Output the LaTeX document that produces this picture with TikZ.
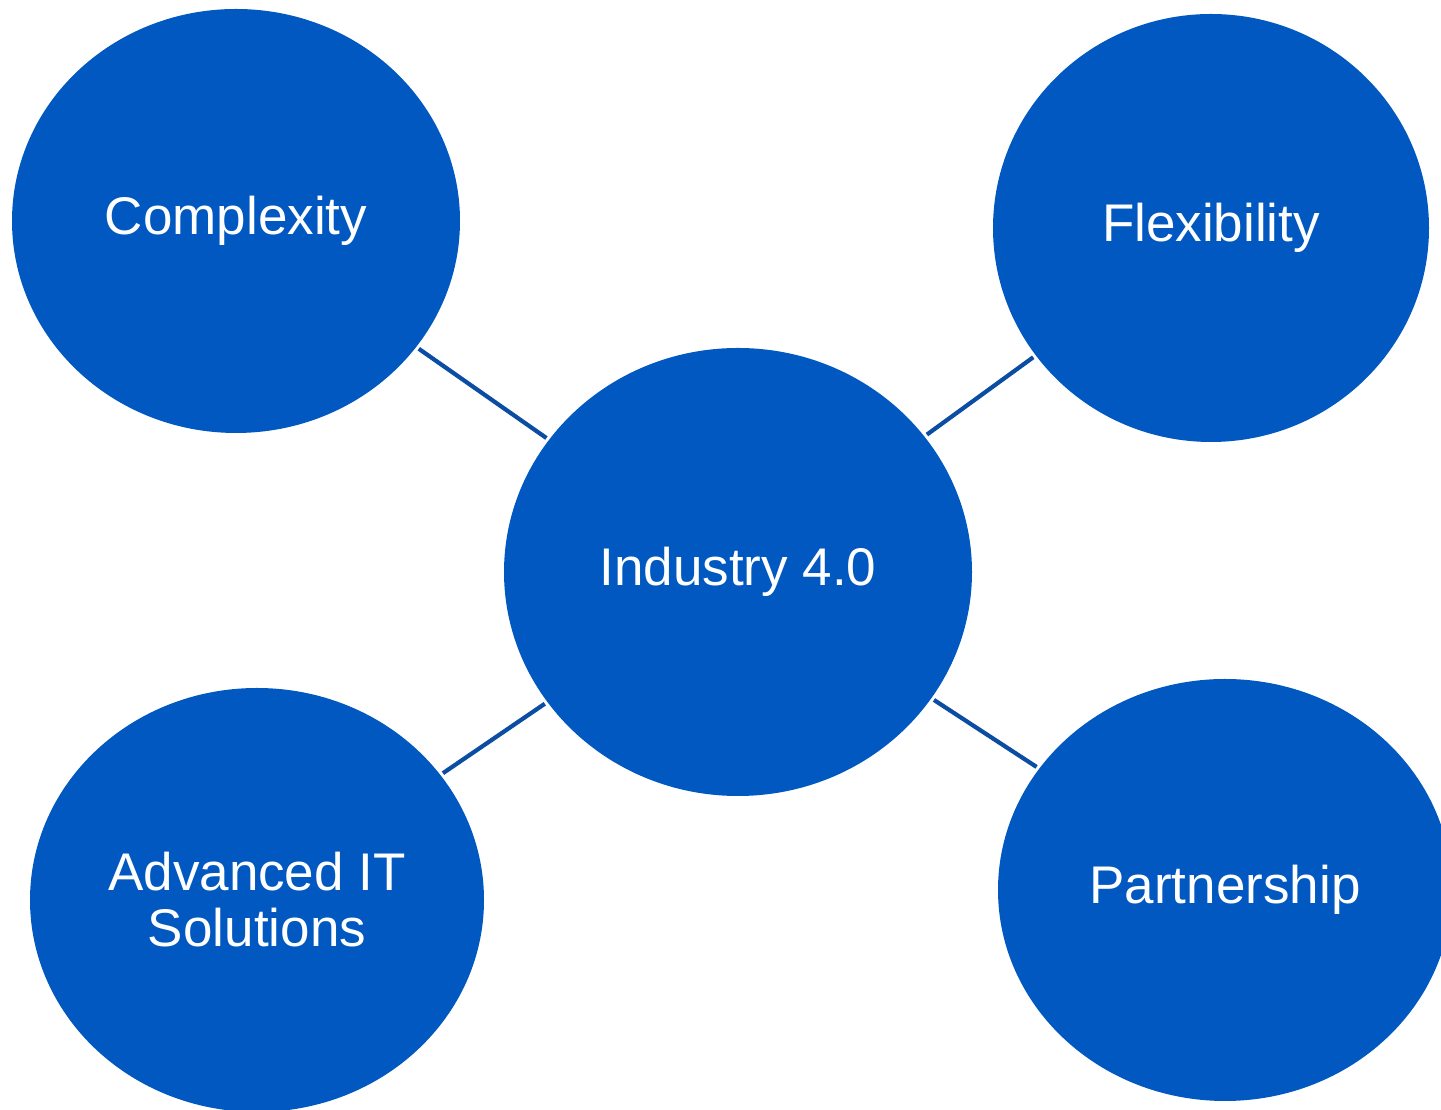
\documentclass[tikz,border=0pt]{standalone}
\usepackage{fontspec}
\setmainfont{Liberation Sans}
\usetikzlibrary{shapes.geometric}
\definecolor{bubble}{HTML}{0058C0}
\definecolor{link}{HTML}{0B4DA2}
\tikzset{
  bub/.style={ellipse, fill=bubble, inner sep=0pt, text=white, align=center,
    font=\fontsize{53}{56}\selectfont},
  conn/.style={draw=link, line width=4.2pt, shorten <=3pt, shorten >=3pt}
}
\begin{document}
\begin{tikzpicture}[x=1pt,y=1pt]
\useasboundingbox (0,0) rectangle (1441,1110);
\node[bub, minimum width=448pt, minimum height=424pt] (cx) at (236,889) {Complexity};
\node[bub, minimum width=436pt, minimum height=428pt] (fx) at (1211,882) {Flexibility};
\node[bub, minimum width=468pt, minimum height=448pt] (ind) at (738,538) {Industry 4.0};
\node[bub, minimum width=454pt, minimum height=424pt] (ait) at (257,210) {Advanced IT\\Solutions};
\node[bub, minimum width=454pt, minimum height=422pt] (pt) at (1225,220) {Partnership};
\draw[conn] (cx) -- (ind);
\draw[conn] (fx) -- (ind);
\draw[conn] (ait) -- (ind);
\draw[conn] (pt) -- (ind);
\end{tikzpicture}
\end{document}
